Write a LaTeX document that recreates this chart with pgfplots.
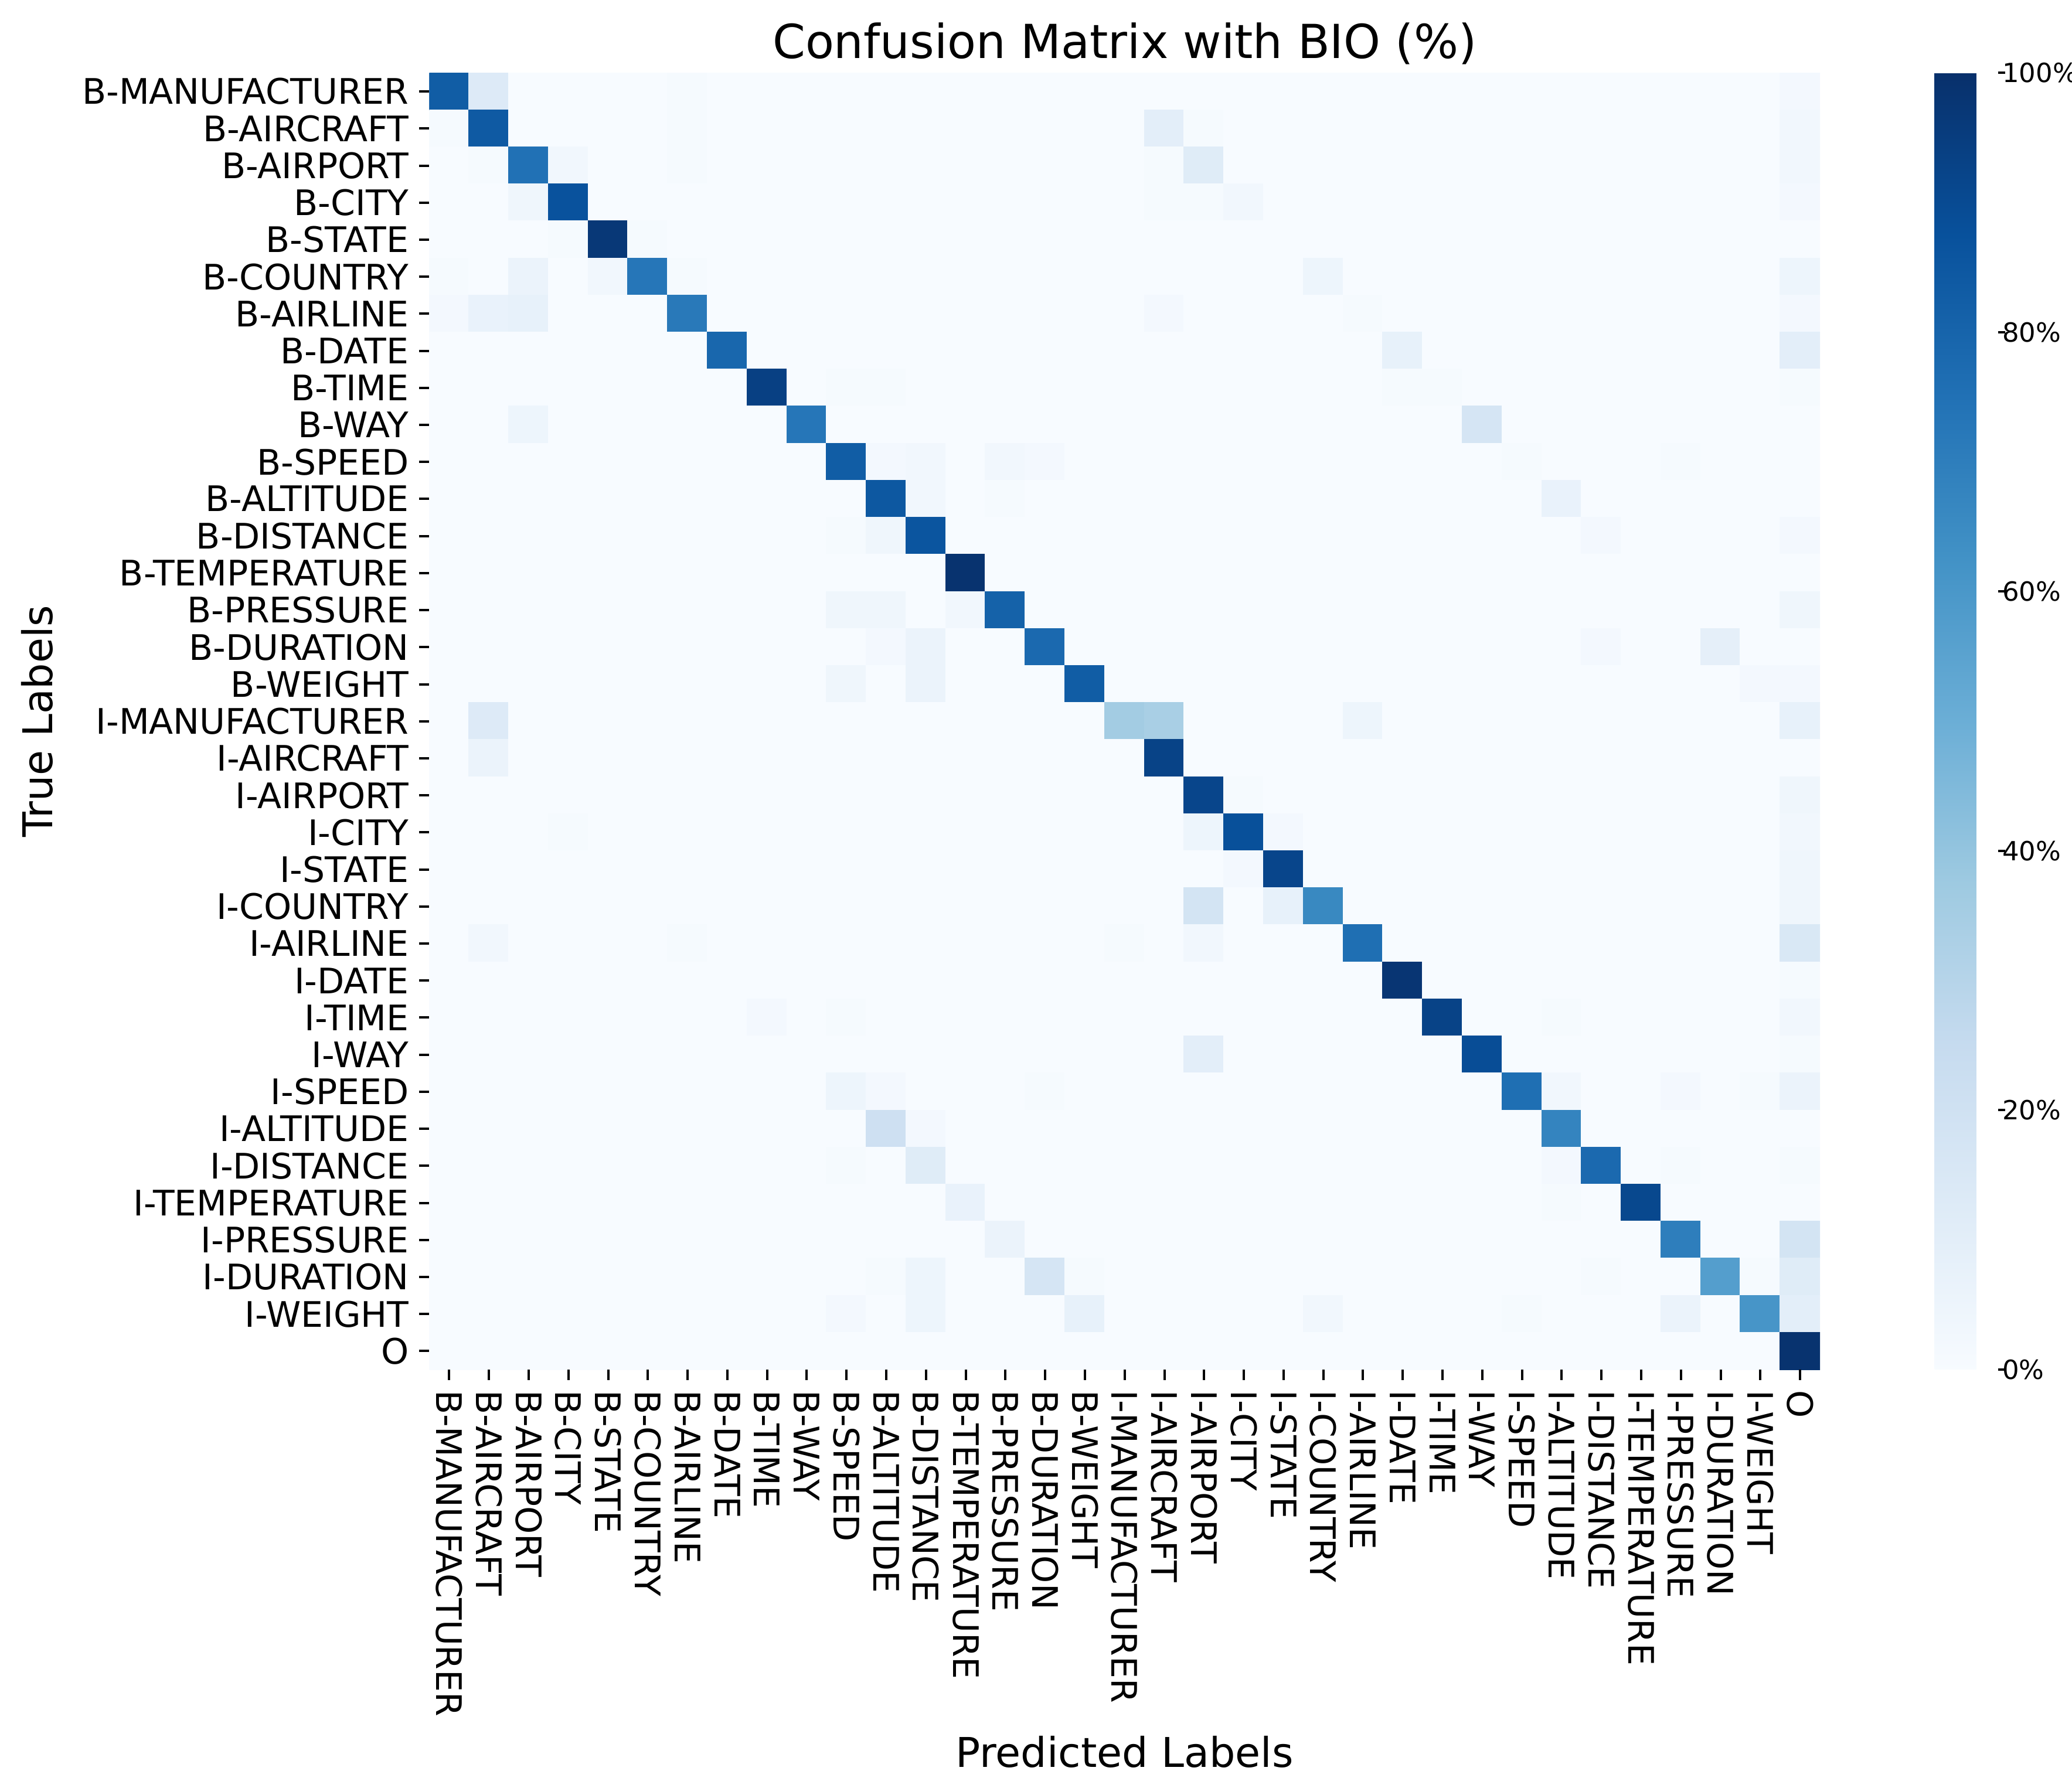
\documentclass[border=0pt]{standalone}
\usepackage{pgfplots}
\pgfplotsset{compat=1.18}
\usepackage{fontspec}
\setmainfont{DejaVu Sans}
\newcommand{\cbl}[1]{\mbox{\fontsize{9}{10.5}\selectfont #1}}
\begin{document}
\begin{tikzpicture}
\useasboundingbox (-146.5pt,-142.8pt) rectangle (560.5pt,467.4pt);
\begin{axis}[
  at={(0pt,0pt)}, anchor=south west,
  scale only axis,
  width=474.5pt, height=442.5pt,
  xmin=-0.5, xmax=34.5, ymin=-0.5, ymax=34.5,
  enlargelimits=false,
  axis line style={draw=none},
  tick align=outside,
  tick pos=left,
  major tick length=3.5pt,
  major tick style={black, line width=0.8pt},
  xtick={0,...,34}, ytick={0,...,34},
  xticklabels={B-MANUFACTURER,B-AIRCRAFT,B-AIRPORT,B-CITY,B-STATE,B-COUNTRY,B-AIRLINE,B-DATE,B-TIME,B-WAY,B-SPEED,B-ALTITUDE,B-DISTANCE,B-TEMPERATURE,B-PRESSURE,B-DURATION,B-WEIGHT,I-MANUFACTURER,I-AIRCRAFT,I-AIRPORT,I-CITY,I-STATE,I-COUNTRY,I-AIRLINE,I-DATE,I-TIME,I-WAY,I-SPEED,I-ALTITUDE,I-DISTANCE,I-TEMPERATURE,I-PRESSURE,I-DURATION,I-WEIGHT,O},
  yticklabels={B-MANUFACTURER,B-AIRCRAFT,B-AIRPORT,B-CITY,B-STATE,B-COUNTRY,B-AIRLINE,B-DATE,B-TIME,B-WAY,B-SPEED,B-ALTITUDE,B-DISTANCE,B-TEMPERATURE,B-PRESSURE,B-DURATION,B-WEIGHT,I-MANUFACTURER,I-AIRCRAFT,I-AIRPORT,I-CITY,I-STATE,I-COUNTRY,I-AIRLINE,I-DATE,I-TIME,I-WAY,I-SPEED,I-ALTITUDE,I-DISTANCE,I-TEMPERATURE,I-PRESSURE,I-DURATION,I-WEIGHT,O},
  xticklabel style={font=\fontsize{12}{14}\selectfont, rotate=-90, anchor=west, inner sep=3.5pt, outer sep=0pt},
  yticklabel style={font=\fontsize{12}{14}\selectfont, anchor=east, inner sep=3.5pt, outer sep=0pt},
  colormap={blues}{rgb255=(247,251,255) rgb255=(222,235,247) rgb255=(198,219,239) rgb255=(158,202,225) rgb255=(107,174,214) rgb255=(66,146,198) rgb255=(33,113,181) rgb255=(8,81,156) rgb255=(8,48,107)},
  point meta min=0, point meta max=100,
  colorbar,
  colorbar style={
    at={(parent axis.north east)}, anchor=north west, xshift=30.6pt,
    scale only axis, width=21.6pt, height=442.5pt,
    ytick={0,20,40,60,80,100},
    yticklabels={\cbl{0\%},\cbl{20\%},\cbl{40\%},\cbl{60\%},\cbl{80\%},\cbl{100\%}},
    ytick pos=right, yticklabel pos=right,
    yticklabel style={font=\fontsize{9}{10.5}\selectfont, anchor=west, inner sep=1pt, outer sep=0pt, xshift=-2pt},
    axis line style={draw=none},
    tick align=outside,
    major tick length=2.5pt,
    major tick style={black, line width=0.8pt},
  },
]
\addplot[matrix plot, mesh/cols=35, point meta=explicit] table[row sep=\\, x=x, y=y, meta=c] {
x y c\\
0 0 83\\ 1 0 13\\ 2 0 0\\ 3 0 0\\ 4 0 0\\ 5 0 0\\ 6 0 1\\ 7 0 0\\ 8 0 0\\ 9 0 0\\ 10 0 0\\ 11 0 0\\ 12 0 0\\ 13 0 0\\ 14 0 0\\ 15 0 0\\ 16 0 0\\ 17 0 0\\ 18 0 0\\ 19 0 0\\ 20 0 0\\ 21 0 0\\ 22 0 0\\ 23 0 0\\ 24 0 0\\ 25 0 0\\ 26 0 0\\ 27 0 0\\ 28 0 0\\ 29 0 0\\ 30 0 0\\ 31 0 0\\ 32 0 0\\ 33 0 0\\ 34 0 2\\
0 1 1\\ 1 1 84\\ 2 1 0\\ 3 1 0\\ 4 1 0\\ 5 1 0\\ 6 1 1\\ 7 1 0\\ 8 1 0\\ 9 1 0\\ 10 1 0\\ 11 1 0\\ 12 1 0\\ 13 1 0\\ 14 1 0\\ 15 1 0\\ 16 1 0\\ 17 1 0\\ 18 1 10\\ 19 1 1\\ 20 1 0\\ 21 1 0\\ 22 1 0\\ 23 1 0\\ 24 1 0\\ 25 1 0\\ 26 1 0\\ 27 1 0\\ 28 1 0\\ 29 1 0\\ 30 1 0\\ 31 1 0\\ 32 1 0\\ 33 1 0\\ 34 1 3\\
0 2 0\\ 1 2 1\\ 2 2 75\\ 3 2 3\\ 4 2 0\\ 5 2 0\\ 6 2 1\\ 7 2 0\\ 8 2 0\\ 9 2 0\\ 10 2 0\\ 11 2 0\\ 12 2 0\\ 13 2 0\\ 14 2 0\\ 15 2 0\\ 16 2 0\\ 17 2 0\\ 18 2 1\\ 19 2 12\\ 20 2 0\\ 21 2 0\\ 22 2 0\\ 23 2 0\\ 24 2 0\\ 25 2 0\\ 26 2 0\\ 27 2 0\\ 28 2 0\\ 29 2 0\\ 30 2 0\\ 31 2 0\\ 32 2 0\\ 33 2 0\\ 34 2 3\\
0 3 0\\ 1 3 0\\ 2 3 4\\ 3 3 87\\ 4 3 0\\ 5 3 0\\ 6 3 0\\ 7 3 0\\ 8 3 0\\ 9 3 0\\ 10 3 0\\ 11 3 0\\ 12 3 0\\ 13 3 0\\ 14 3 0\\ 15 3 0\\ 16 3 0\\ 17 3 0\\ 18 3 1\\ 19 3 1\\ 20 3 3\\ 21 3 0\\ 22 3 0\\ 23 3 0\\ 24 3 0\\ 25 3 0\\ 26 3 0\\ 27 3 0\\ 28 3 0\\ 29 3 0\\ 30 3 0\\ 31 3 0\\ 32 3 0\\ 33 3 0\\ 34 3 2\\
0 4 0\\ 1 4 0\\ 2 4 0\\ 3 4 1\\ 4 4 97\\ 5 4 1\\ 6 4 0\\ 7 4 0\\ 8 4 0\\ 9 4 0\\ 10 4 0\\ 11 4 0\\ 12 4 0\\ 13 4 0\\ 14 4 0\\ 15 4 0\\ 16 4 0\\ 17 4 0\\ 18 4 0\\ 19 4 0\\ 20 4 0\\ 21 4 0\\ 22 4 0\\ 23 4 0\\ 24 4 0\\ 25 4 0\\ 26 4 0\\ 27 4 0\\ 28 4 0\\ 29 4 0\\ 30 4 0\\ 31 4 0\\ 32 4 0\\ 33 4 0\\ 34 4 0\\
0 5 1\\ 1 5 0\\ 2 5 6\\ 3 5 0\\ 4 5 3\\ 5 5 73\\ 6 5 1\\ 7 5 0\\ 8 5 0\\ 9 5 0\\ 10 5 0\\ 11 5 0\\ 12 5 0\\ 13 5 0\\ 14 5 0\\ 15 5 0\\ 16 5 0\\ 17 5 0\\ 18 5 0\\ 19 5 0\\ 20 5 0\\ 21 5 0\\ 22 5 5\\ 23 5 0\\ 24 5 0\\ 25 5 0\\ 26 5 0\\ 27 5 0\\ 28 5 0\\ 29 5 0\\ 30 5 0\\ 31 5 0\\ 32 5 0\\ 33 5 0\\ 34 5 5\\
0 6 2\\ 1 6 7\\ 2 6 8\\ 3 6 0\\ 4 6 0\\ 5 6 0\\ 6 6 72\\ 7 6 0\\ 8 6 0\\ 9 6 0\\ 10 6 0\\ 11 6 0\\ 12 6 0\\ 13 6 0\\ 14 6 0\\ 15 6 0\\ 16 6 0\\ 17 6 0\\ 18 6 2\\ 19 6 0\\ 20 6 0\\ 21 6 0\\ 22 6 0\\ 23 6 1\\ 24 6 0\\ 25 6 0\\ 26 6 0\\ 27 6 0\\ 28 6 0\\ 29 6 0\\ 30 6 0\\ 31 6 0\\ 32 6 0\\ 33 6 0\\ 34 6 2\\
0 7 0\\ 1 7 0\\ 2 7 0\\ 3 7 0\\ 4 7 0\\ 5 7 0\\ 6 7 0\\ 7 7 79\\ 8 7 0\\ 9 7 0\\ 10 7 0\\ 11 7 0\\ 12 7 0\\ 13 7 0\\ 14 7 0\\ 15 7 0\\ 16 7 0\\ 17 7 0\\ 18 7 0\\ 19 7 0\\ 20 7 0\\ 21 7 0\\ 22 7 0\\ 23 7 0\\ 24 7 8\\ 25 7 0\\ 26 7 0\\ 27 7 0\\ 28 7 0\\ 29 7 0\\ 30 7 0\\ 31 7 0\\ 32 7 0\\ 33 7 0\\ 34 7 10\\
0 8 0\\ 1 8 0\\ 2 8 0\\ 3 8 0\\ 4 8 0\\ 5 8 0\\ 6 8 0\\ 7 8 0\\ 8 8 94\\ 9 8 0\\ 10 8 1\\ 11 8 1\\ 12 8 0\\ 13 8 0\\ 14 8 0\\ 15 8 0\\ 16 8 0\\ 17 8 0\\ 18 8 0\\ 19 8 0\\ 20 8 0\\ 21 8 0\\ 22 8 0\\ 23 8 0\\ 24 8 1\\ 25 8 1\\ 26 8 0\\ 27 8 0\\ 28 8 0\\ 29 8 0\\ 30 8 0\\ 31 8 0\\ 32 8 0\\ 33 8 0\\ 34 8 1\\
0 9 0\\ 1 9 0\\ 2 9 5\\ 3 9 0\\ 4 9 0\\ 5 9 0\\ 6 9 0\\ 7 9 0\\ 8 9 0\\ 9 9 73\\ 10 9 0\\ 11 9 0\\ 12 9 0\\ 13 9 0\\ 14 9 0\\ 15 9 0\\ 16 9 0\\ 17 9 0\\ 18 9 0\\ 19 9 0\\ 20 9 0\\ 21 9 0\\ 22 9 0\\ 23 9 0\\ 24 9 0\\ 25 9 0\\ 26 9 17\\ 27 9 0\\ 28 9 0\\ 29 9 0\\ 30 9 0\\ 31 9 0\\ 32 9 0\\ 33 9 0\\ 34 9 0\\
0 10 0\\ 1 10 0\\ 2 10 0\\ 3 10 0\\ 4 10 0\\ 5 10 0\\ 6 10 0\\ 7 10 0\\ 8 10 0\\ 9 10 0\\ 10 10 83\\ 11 10 2\\ 12 10 3\\ 13 10 0\\ 14 10 3\\ 15 10 2\\ 16 10 0\\ 17 10 0\\ 18 10 0\\ 19 10 0\\ 20 10 0\\ 21 10 0\\ 22 10 0\\ 23 10 0\\ 24 10 0\\ 25 10 0\\ 26 10 0\\ 27 10 1\\ 28 10 0\\ 29 10 0\\ 30 10 0\\ 31 10 1\\ 32 10 0\\ 33 10 0\\ 34 10 0\\
0 11 0\\ 1 11 0\\ 2 11 0\\ 3 11 0\\ 4 11 0\\ 5 11 0\\ 6 11 0\\ 7 11 0\\ 8 11 0\\ 9 11 0\\ 10 11 0\\ 11 11 85\\ 12 11 3\\ 13 11 0\\ 14 11 1\\ 15 11 0\\ 16 11 0\\ 17 11 0\\ 18 11 0\\ 19 11 0\\ 20 11 0\\ 21 11 0\\ 22 11 0\\ 23 11 0\\ 24 11 0\\ 25 11 0\\ 26 11 0\\ 27 11 0\\ 28 11 7\\ 29 11 0\\ 30 11 0\\ 31 11 0\\ 32 11 0\\ 33 11 0\\ 34 11 0\\
0 12 0\\ 1 12 0\\ 2 12 0\\ 3 12 0\\ 4 12 0\\ 5 12 0\\ 6 12 0\\ 7 12 0\\ 8 12 0\\ 9 12 0\\ 10 12 1\\ 11 12 4\\ 12 12 86\\ 13 12 0\\ 14 12 0\\ 15 12 0\\ 16 12 0\\ 17 12 0\\ 18 12 0\\ 19 12 0\\ 20 12 0\\ 21 12 0\\ 22 12 0\\ 23 12 0\\ 24 12 0\\ 25 12 0\\ 26 12 0\\ 27 12 0\\ 28 12 0\\ 29 12 2\\ 30 12 0\\ 31 12 0\\ 32 12 0\\ 33 12 0\\ 34 12 2\\
0 13 0\\ 1 13 0\\ 2 13 0\\ 3 13 0\\ 4 13 0\\ 5 13 0\\ 6 13 0\\ 7 13 0\\ 8 13 0\\ 9 13 0\\ 10 13 0\\ 11 13 0\\ 12 13 0\\ 13 13 99\\ 14 13 0\\ 15 13 0\\ 16 13 0\\ 17 13 0\\ 18 13 0\\ 19 13 0\\ 20 13 0\\ 21 13 0\\ 22 13 0\\ 23 13 0\\ 24 13 0\\ 25 13 0\\ 26 13 0\\ 27 13 0\\ 28 13 0\\ 29 13 0\\ 30 13 0\\ 31 13 0\\ 32 13 0\\ 33 13 0\\ 34 13 0\\
0 14 0\\ 1 14 0\\ 2 14 0\\ 3 14 0\\ 4 14 0\\ 5 14 0\\ 6 14 0\\ 7 14 0\\ 8 14 0\\ 9 14 0\\ 10 14 4\\ 11 14 4\\ 12 14 0\\ 13 14 3\\ 14 14 81\\ 15 14 0\\ 16 14 0\\ 17 14 0\\ 18 14 0\\ 19 14 0\\ 20 14 0\\ 21 14 0\\ 22 14 0\\ 23 14 0\\ 24 14 0\\ 25 14 0\\ 26 14 0\\ 27 14 0\\ 28 14 0\\ 29 14 0\\ 30 14 0\\ 31 14 0\\ 32 14 0\\ 33 14 0\\ 34 14 4\\
0 15 0\\ 1 15 0\\ 2 15 0\\ 3 15 0\\ 4 15 0\\ 5 15 0\\ 6 15 0\\ 7 15 0\\ 8 15 0\\ 9 15 0\\ 10 15 0\\ 11 15 2\\ 12 15 6\\ 13 15 0\\ 14 15 0\\ 15 15 78\\ 16 15 0\\ 17 15 0\\ 18 15 0\\ 19 15 0\\ 20 15 0\\ 21 15 0\\ 22 15 0\\ 23 15 0\\ 24 15 0\\ 25 15 0\\ 26 15 0\\ 27 15 0\\ 28 15 0\\ 29 15 2\\ 30 15 0\\ 31 15 0\\ 32 15 9\\ 33 15 0\\ 34 15 0\\
0 16 0\\ 1 16 0\\ 2 16 0\\ 3 16 0\\ 4 16 0\\ 5 16 0\\ 6 16 0\\ 7 16 0\\ 8 16 0\\ 9 16 0\\ 10 16 4\\ 11 16 0\\ 12 16 6\\ 13 16 0\\ 14 16 0\\ 15 16 0\\ 16 16 83\\ 17 16 0\\ 18 16 0\\ 19 16 0\\ 20 16 0\\ 21 16 0\\ 22 16 0\\ 23 16 0\\ 24 16 0\\ 25 16 0\\ 26 16 0\\ 27 16 0\\ 28 16 0\\ 29 16 0\\ 30 16 0\\ 31 16 0\\ 32 16 0\\ 33 16 2\\ 34 16 2\\
0 17 0\\ 1 17 13\\ 2 17 0\\ 3 17 0\\ 4 17 0\\ 5 17 0\\ 6 17 0\\ 7 17 0\\ 8 17 0\\ 9 17 0\\ 10 17 0\\ 11 17 0\\ 12 17 0\\ 13 17 0\\ 14 17 0\\ 15 17 0\\ 16 17 0\\ 17 17 36\\ 18 17 34\\ 19 17 0\\ 20 17 0\\ 21 17 0\\ 22 17 0\\ 23 17 5\\ 24 17 0\\ 25 17 0\\ 26 17 0\\ 27 17 0\\ 28 17 0\\ 29 17 0\\ 30 17 0\\ 31 17 0\\ 32 17 0\\ 33 17 0\\ 34 17 8\\
0 18 0\\ 1 18 6\\ 2 18 0\\ 3 18 0\\ 4 18 0\\ 5 18 0\\ 6 18 0\\ 7 18 0\\ 8 18 0\\ 9 18 0\\ 10 18 0\\ 11 18 0\\ 12 18 0\\ 13 18 0\\ 14 18 0\\ 15 18 0\\ 16 18 0\\ 17 18 0\\ 18 18 93\\ 19 18 0\\ 20 18 0\\ 21 18 0\\ 22 18 0\\ 23 18 0\\ 24 18 0\\ 25 18 0\\ 26 18 0\\ 27 18 0\\ 28 18 0\\ 29 18 0\\ 30 18 0\\ 31 18 0\\ 32 18 0\\ 33 18 0\\ 34 18 0\\
0 19 0\\ 1 19 0\\ 2 19 0\\ 3 19 0\\ 4 19 0\\ 5 19 0\\ 6 19 0\\ 7 19 0\\ 8 19 0\\ 9 19 0\\ 10 19 0\\ 11 19 0\\ 12 19 0\\ 13 19 0\\ 14 19 0\\ 15 19 0\\ 16 19 0\\ 17 19 0\\ 18 19 0\\ 19 19 92\\ 20 19 1\\ 21 19 0\\ 22 19 0\\ 23 19 0\\ 24 19 0\\ 25 19 0\\ 26 19 0\\ 27 19 0\\ 28 19 0\\ 29 19 0\\ 30 19 0\\ 31 19 0\\ 32 19 0\\ 33 19 0\\ 34 19 4\\
0 20 0\\ 1 20 0\\ 2 20 0\\ 3 20 1\\ 4 20 0\\ 5 20 0\\ 6 20 0\\ 7 20 0\\ 8 20 0\\ 9 20 0\\ 10 20 0\\ 11 20 0\\ 12 20 0\\ 13 20 0\\ 14 20 0\\ 15 20 0\\ 16 20 0\\ 17 20 0\\ 18 20 0\\ 19 20 5\\ 20 20 88\\ 21 20 2\\ 22 20 0\\ 23 20 0\\ 24 20 0\\ 25 20 0\\ 26 20 0\\ 27 20 0\\ 28 20 0\\ 29 20 0\\ 30 20 0\\ 31 20 0\\ 32 20 0\\ 33 20 0\\ 34 20 3\\
0 21 0\\ 1 21 0\\ 2 21 0\\ 3 21 0\\ 4 21 0\\ 5 21 0\\ 6 21 0\\ 7 21 0\\ 8 21 0\\ 9 21 0\\ 10 21 0\\ 11 21 0\\ 12 21 0\\ 13 21 0\\ 14 21 0\\ 15 21 0\\ 16 21 0\\ 17 21 0\\ 18 21 0\\ 19 21 0\\ 20 21 2\\ 21 21 92\\ 22 21 0\\ 23 21 0\\ 24 21 0\\ 25 21 0\\ 26 21 0\\ 27 21 0\\ 28 21 0\\ 29 21 0\\ 30 21 0\\ 31 21 0\\ 32 21 0\\ 33 21 0\\ 34 21 4\\
0 22 0\\ 1 22 0\\ 2 22 0\\ 3 22 0\\ 4 22 0\\ 5 22 0\\ 6 22 0\\ 7 22 0\\ 8 22 0\\ 9 22 0\\ 10 22 0\\ 11 22 0\\ 12 22 0\\ 13 22 0\\ 14 22 0\\ 15 22 0\\ 16 22 0\\ 17 22 0\\ 18 22 0\\ 19 22 18\\ 20 22 0\\ 21 22 8\\ 22 22 66\\ 23 22 0\\ 24 22 0\\ 25 22 0\\ 26 22 0\\ 27 22 0\\ 28 22 0\\ 29 22 0\\ 30 22 0\\ 31 22 0\\ 32 22 0\\ 33 22 0\\ 34 22 4\\
0 23 0\\ 1 23 3\\ 2 23 0\\ 3 23 0\\ 4 23 0\\ 5 23 0\\ 6 23 1\\ 7 23 0\\ 8 23 0\\ 9 23 0\\ 10 23 0\\ 11 23 0\\ 12 23 0\\ 13 23 0\\ 14 23 0\\ 15 23 0\\ 16 23 0\\ 17 23 1\\ 18 23 0\\ 19 23 3\\ 20 23 0\\ 21 23 0\\ 22 23 0\\ 23 23 76\\ 24 23 0\\ 25 23 0\\ 26 23 0\\ 27 23 0\\ 28 23 0\\ 29 23 0\\ 30 23 0\\ 31 23 0\\ 32 23 0\\ 33 23 0\\ 34 23 15\\
0 24 0\\ 1 24 0\\ 2 24 0\\ 3 24 0\\ 4 24 0\\ 5 24 0\\ 6 24 0\\ 7 24 0\\ 8 24 0\\ 9 24 0\\ 10 24 0\\ 11 24 0\\ 12 24 0\\ 13 24 0\\ 14 24 0\\ 15 24 0\\ 16 24 0\\ 17 24 0\\ 18 24 0\\ 19 24 0\\ 20 24 0\\ 21 24 0\\ 22 24 0\\ 23 24 0\\ 24 24 98\\ 25 24 0\\ 26 24 0\\ 27 24 0\\ 28 24 0\\ 29 24 0\\ 30 24 0\\ 31 24 0\\ 32 24 0\\ 33 24 0\\ 34 24 1\\
0 25 0\\ 1 25 0\\ 2 25 0\\ 3 25 0\\ 4 25 0\\ 5 25 0\\ 6 25 0\\ 7 25 0\\ 8 25 2\\ 9 25 0\\ 10 25 1\\ 11 25 0\\ 12 25 0\\ 13 25 0\\ 14 25 0\\ 15 25 0\\ 16 25 0\\ 17 25 0\\ 18 25 0\\ 19 25 0\\ 20 25 0\\ 21 25 0\\ 22 25 0\\ 23 25 0\\ 24 25 0\\ 25 25 93\\ 26 25 0\\ 27 25 0\\ 28 25 1\\ 29 25 0\\ 30 25 0\\ 31 25 0\\ 32 25 0\\ 33 25 0\\ 34 25 3\\
0 26 0\\ 1 26 0\\ 2 26 0\\ 3 26 0\\ 4 26 0\\ 5 26 0\\ 6 26 0\\ 7 26 0\\ 8 26 0\\ 9 26 0\\ 10 26 0\\ 11 26 0\\ 12 26 0\\ 13 26 0\\ 14 26 0\\ 15 26 0\\ 16 26 0\\ 17 26 0\\ 18 26 0\\ 19 26 10\\ 20 26 0\\ 21 26 0\\ 22 26 0\\ 23 26 0\\ 24 26 0\\ 25 26 0\\ 26 26 89\\ 27 26 0\\ 28 26 0\\ 29 26 0\\ 30 26 0\\ 31 26 0\\ 32 26 0\\ 33 26 0\\ 34 26 1\\
0 27 0\\ 1 27 0\\ 2 27 0\\ 3 27 0\\ 4 27 0\\ 5 27 0\\ 6 27 0\\ 7 27 0\\ 8 27 0\\ 9 27 0\\ 10 27 5\\ 11 27 2\\ 12 27 0\\ 13 27 0\\ 14 27 0\\ 15 27 1\\ 16 27 0\\ 17 27 0\\ 18 27 0\\ 19 27 0\\ 20 27 0\\ 21 27 0\\ 22 27 0\\ 23 27 0\\ 24 27 0\\ 25 27 0\\ 26 27 0\\ 27 27 76\\ 28 27 3\\ 29 27 0\\ 30 27 0\\ 31 27 2\\ 32 27 0\\ 33 27 1\\ 34 27 6\\
0 28 0\\ 1 28 0\\ 2 28 0\\ 3 28 0\\ 4 28 0\\ 5 28 0\\ 6 28 0\\ 7 28 0\\ 8 28 0\\ 9 28 0\\ 10 28 0\\ 11 28 21\\ 12 28 2\\ 13 28 0\\ 14 28 0\\ 15 28 0\\ 16 28 0\\ 17 28 0\\ 18 28 0\\ 19 28 0\\ 20 28 0\\ 21 28 0\\ 22 28 0\\ 23 28 0\\ 24 28 0\\ 25 28 0\\ 26 28 0\\ 27 28 0\\ 28 28 68\\ 29 28 0\\ 30 28 0\\ 31 28 0\\ 32 28 0\\ 33 28 0\\ 34 28 0\\
0 29 0\\ 1 29 0\\ 2 29 0\\ 3 29 0\\ 4 29 0\\ 5 29 0\\ 6 29 0\\ 7 29 0\\ 8 29 0\\ 9 29 0\\ 10 29 1\\ 11 29 0\\ 12 29 12\\ 13 29 0\\ 14 29 0\\ 15 29 0\\ 16 29 0\\ 17 29 0\\ 18 29 0\\ 19 29 0\\ 20 29 0\\ 21 29 0\\ 22 29 0\\ 23 29 0\\ 24 29 0\\ 25 29 0\\ 26 29 0\\ 27 29 0\\ 28 29 2\\ 29 29 78\\ 30 29 0\\ 31 29 1\\ 32 29 0\\ 33 29 0\\ 34 29 1\\
0 30 0\\ 1 30 0\\ 2 30 0\\ 3 30 0\\ 4 30 0\\ 5 30 0\\ 6 30 0\\ 7 30 0\\ 8 30 0\\ 9 30 0\\ 10 30 0\\ 11 30 0\\ 12 30 0\\ 13 30 7\\ 14 30 0\\ 15 30 0\\ 16 30 0\\ 17 30 0\\ 18 30 0\\ 19 30 0\\ 20 30 0\\ 21 30 0\\ 22 30 0\\ 23 30 0\\ 24 30 0\\ 25 30 0\\ 26 30 0\\ 27 30 0\\ 28 30 1\\ 29 30 0\\ 30 30 91\\ 31 30 0\\ 32 30 0\\ 33 30 0\\ 34 30 0\\
0 31 0\\ 1 31 0\\ 2 31 0\\ 3 31 0\\ 4 31 0\\ 5 31 0\\ 6 31 0\\ 7 31 0\\ 8 31 0\\ 9 31 0\\ 10 31 0\\ 11 31 0\\ 12 31 0\\ 13 31 0\\ 14 31 6\\ 15 31 0\\ 16 31 0\\ 17 31 0\\ 18 31 0\\ 19 31 0\\ 20 31 0\\ 21 31 0\\ 22 31 0\\ 23 31 0\\ 24 31 0\\ 25 31 0\\ 26 31 0\\ 27 31 0\\ 28 31 0\\ 29 31 0\\ 30 31 0\\ 31 31 70\\ 32 31 0\\ 33 31 0\\ 34 31 18\\
0 32 0\\ 1 32 0\\ 2 32 0\\ 3 32 0\\ 4 32 0\\ 5 32 0\\ 6 32 0\\ 7 32 0\\ 8 32 0\\ 9 32 0\\ 10 32 0\\ 11 32 1\\ 12 32 5\\ 13 32 0\\ 14 32 0\\ 15 32 17\\ 16 32 1\\ 17 32 0\\ 18 32 0\\ 19 32 0\\ 20 32 0\\ 21 32 0\\ 22 32 0\\ 23 32 0\\ 24 32 0\\ 25 32 0\\ 26 32 0\\ 27 32 0\\ 28 32 0\\ 29 32 1\\ 30 32 0\\ 31 32 0\\ 32 32 57\\ 33 32 1\\ 34 32 12\\
0 33 0\\ 1 33 0\\ 2 33 0\\ 3 33 0\\ 4 33 0\\ 5 33 0\\ 6 33 0\\ 7 33 0\\ 8 33 0\\ 9 33 0\\ 10 33 2\\ 11 33 0\\ 12 33 5\\ 13 33 0\\ 14 33 0\\ 15 33 0\\ 16 33 8\\ 17 33 0\\ 18 33 0\\ 19 33 0\\ 20 33 0\\ 21 33 0\\ 22 33 3\\ 23 33 0\\ 24 33 0\\ 25 33 0\\ 26 33 0\\ 27 33 1\\ 28 33 0\\ 29 33 0\\ 30 33 0\\ 31 33 6\\ 32 33 0\\ 33 33 61\\ 34 33 10\\
0 34 0\\ 1 34 0\\ 2 34 0\\ 3 34 0\\ 4 34 0\\ 5 34 0\\ 6 34 0\\ 7 34 0\\ 8 34 0\\ 9 34 0\\ 10 34 0\\ 11 34 0\\ 12 34 0\\ 13 34 0\\ 14 34 0\\ 15 34 0\\ 16 34 0\\ 17 34 0\\ 18 34 0\\ 19 34 0\\ 20 34 0\\ 21 34 0\\ 22 34 0\\ 23 34 0\\ 24 34 0\\ 25 34 0\\ 26 34 0\\ 27 34 0\\ 28 34 0\\ 29 34 0\\ 30 34 0\\ 31 34 0\\ 32 34 0\\ 33 34 0\\ 34 34 99\\
};
\end{axis}
\node[font=\fontsize{16}{19}\selectfont, anchor=base, inner sep=0pt] at (237.25pt,447.4pt) {Confusion Matrix with BIO (\%)};
\node[font=\fontsize{14}{17}\selectfont, anchor=base, inner sep=0pt] at (237.25pt,-135.6pt) {Predicted Labels};
\node[font=\fontsize{14}{17}\selectfont, rotate=90, anchor=base, inner sep=0pt] at (-128.5pt,221.25pt) {True Labels};
\end{tikzpicture}
\end{document}
